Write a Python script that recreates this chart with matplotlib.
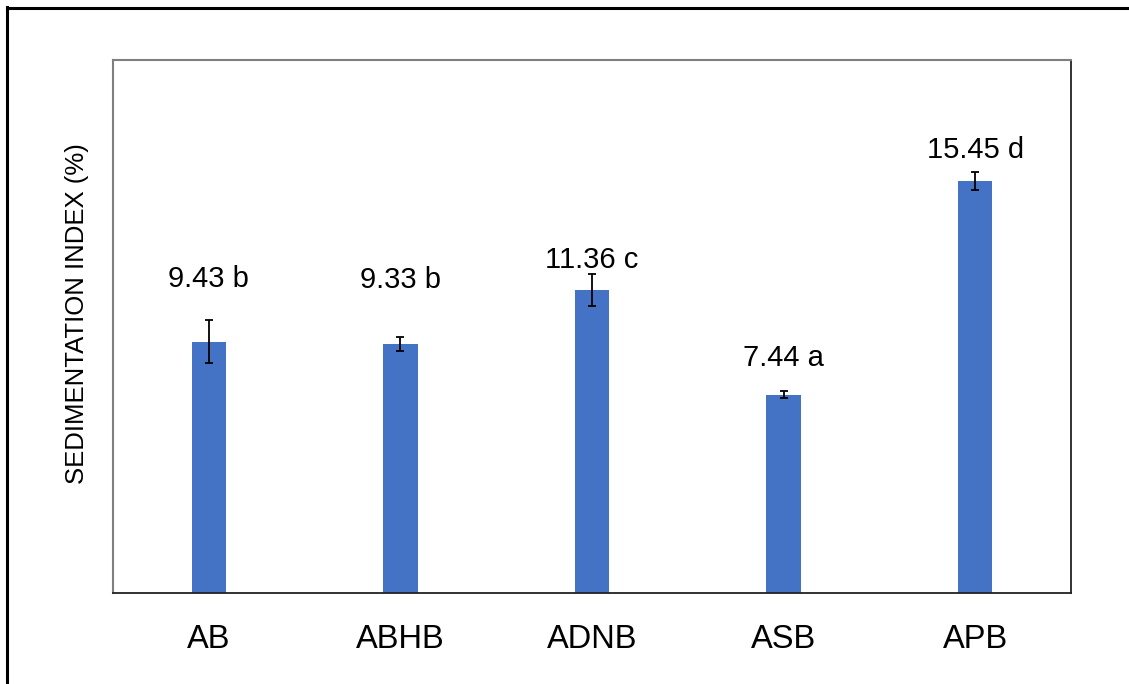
import numpy as np
import matplotlib.pyplot as plt
from matplotlib.lines import Line2D

plt.rcParams['font.family'] = ['Liberation Sans', 'DejaVu Sans']

samples = ['AB', 'ABHB', 'ADNB', 'ASB', 'APB']
sed_index = [9.43, 9.33, 11.36, 7.44, 15.45]
sed_err = [0.81, 0.26, 0.60, 0.13, 0.34]
letters = ['b', 'b', 'c', 'a', 'd']

# extra gap above each error bar for the value labels (data units)
label_pad = [1.55, 2.15, 0.55, 1.25, 0.85]

fig = plt.figure(figsize=(11.29, 6.84), dpi=100)
ax = fig.add_axes([113/1129, 1 - 593/684, (1071-113)/1129, (593-60)/684])

x = np.arange(len(samples))
ax.bar(x, sed_index, width=0.18, color='#4472C4', zorder=2)
ax.errorbar(x, sed_index, yerr=sed_err, fmt='none', ecolor='black',
            elinewidth=1.3, capsize=3, capthick=1.3, zorder=3)

for i in range(len(samples)):
    ytxt = sed_index[i] + sed_err[i] + label_pad[i]
    ax.text(x[i], ytxt, '%.2f %s' % (sed_index[i], letters[i]),
            ha='center', va='center', fontsize=21)

ax.set_xlim(-0.5, len(samples) - 0.5)
ax.set_ylim(0, 20)
ax.set_xticks(x)
ax.set_xticklabels(samples, fontsize=23.5)
ax.tick_params(axis='x', length=0, pad=22)
ax.set_yticks([])
ax.set_ylabel('SEDIMENTATION INDEX (%)', fontsize=18.5, labelpad=17)
ax.yaxis.label.set_y(0.525)

for side in ['top', 'left']:
    ax.spines[side].set_color('#7f7f7f')
    ax.spines[side].set_linewidth(1.5)
for side in ['right', 'bottom']:
    ax.spines[side].set_color('#222222')
    ax.spines[side].set_linewidth(1.3)

# outer frame (only top and left edges visible in the picture)
fig.add_artist(Line2D([6.5/1129, 6.5/1129], [0, 1 - 7/684], color='black', lw=2.2,
                      transform=fig.transFigure))
fig.add_artist(Line2D([6.5/1129, 1], [1 - 7.5/684, 1 - 7.5/684], color='black', lw=2.2,
                      transform=fig.transFigure))

fig.savefig('out.png', dpi=100)
